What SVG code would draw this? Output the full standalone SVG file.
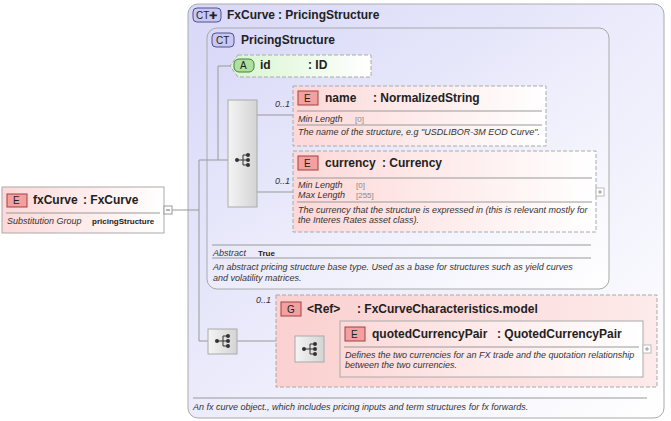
<svg xmlns="http://www.w3.org/2000/svg" width="671" height="421" viewBox="0 0 671 421">
<defs>
<linearGradient id="ct" x1="0" y1="0" x2="1" y2="1"><stop offset="0" stop-color="#d8d8f8"/><stop offset="1" stop-color="#ffffff"/></linearGradient>
<linearGradient id="el" x1="0" y1="0" x2="1" y2="0"><stop offset="0" stop-color="#fdd8d8"/><stop offset="1" stop-color="#ffffff"/></linearGradient>
<linearGradient id="gr" x1="0" y1="0" x2="1" y2="0"><stop offset="0" stop-color="#fbd0d0"/><stop offset="1" stop-color="#fdeaea"/></linearGradient>
<linearGradient id="at" x1="0" y1="0" x2="1" y2="0"><stop offset="0" stop-color="#d8f5d0"/><stop offset="1" stop-color="#ffffff"/></linearGradient>
<linearGradient id="sq" x1="0" y1="0" x2="1" y2="0"><stop offset="0" stop-color="#f4f4f4"/><stop offset="1" stop-color="#d4d4d4"/></linearGradient>
<g id="seqicon"><circle cx="-6" cy="0" r="2" fill="#333"/><path d="M-6 0H0M0-5V5M0-5H4M0 0H4M0 5H4" stroke="#333" fill="none"/><circle cx="5" cy="-5" r="2" fill="#333"/><circle cx="5" cy="0" r="2" fill="#333"/><circle cx="5" cy="5" r="2" fill="#333"/></g>
</defs>
<style>
text{font-family:"Liberation Sans",Arial,sans-serif;fill:#222}
.b{font-weight:bold;font-size:12px}
.i{font-style:italic;font-size:9px;fill:#333}
.v{font-size:8px;fill:#888}
.sep{stroke:#999;stroke-width:1}
.c{stroke:#999;fill:none}
.eb{fill:#f4a0a0;stroke:#a04040}
</style>
<g id="FxCurveType">
<rect x="188" y="4" width="476" height="414" rx="10" fill="url(#ct)" stroke="#aaa"/>
<rect x="193" y="8" width="28" height="14" rx="4" fill="#c8c8f0" stroke="#505090"/>
<text x="196" y="19" font-size="10" fill="#303070">CT✚</text>
<text x="227" y="19" class="b">FxCurve</text><text x="278" y="19" class="b">: PricingStructure</text>
<line x1="193" y1="398" x2="647" y2="398" class="sep"/>
<text x="193" y="410" class="i">An fx curve object., which includes pricing inputs and term structures for fx forwards.</text>
</g>
<g id="PricingStructure">
<rect x="207" y="28" width="402" height="261" rx="10" fill="url(#ct)" stroke="#aaa"/>
<rect x="212" y="33" width="22" height="14" rx="4" fill="#c8c8f0" stroke="#505090"/>
<text x="216" y="44" font-size="10" fill="#303070">CT</text>
<text x="241" y="44" class="b">PricingStructure</text>
<line x1="212" y1="245" x2="591" y2="245" class="sep"/>
<text x="213" y="256" class="i">Abstract</text><text x="258" y="256" font-size="8" font-weight="bold">True</text>
<line x1="212" y1="258" x2="591" y2="258" class="sep"/>
<text x="213" y="270" class="i">An abstract pricing structure base type. Used as a base for structures such as yield curves</text>
<text x="213" y="281" class="i">and volatility matrices.</text>
</g>
<g id="connectors">
<path class="c" d="M172 210H199M199 160V341M199 160H228M218 160V66H230M199 341H208M257 115H293M257 192H293M237 341H276M276 349H295M324 349H340"/>
<text x="275" y="107" class="i">0..1</text>
<text x="275" y="184" class="i">0..1</text>
<text x="256" y="303" class="i">0..1</text>
</g>
<g id="fxCurve">
<rect x="2" y="187" width="162" height="46" fill="url(#el)" stroke="#aaa"/>
<rect x="7" y="194" width="20" height="13" class="eb"/><text x="13" y="204" font-size="10">E</text>
<text x="33" y="204" class="b">fxCurve</text><text x="83" y="204" class="b">: FxCurve</text>
<line x1="6" y1="213" x2="160" y2="213" class="sep"/>
<text x="7" y="224" class="i">Substitution Group</text><text x="92" y="224" font-size="8" font-weight="bold">pricingStructure</text>
<rect x="164" y="206" width="8" height="8" fill="#fff" stroke="#999"/><path d="M166 210h4" stroke="#666"/>
</g>
<g id="id">
<path d="M238 55H371V77H238L230 66Z" fill="url(#at)" stroke="#aaa" stroke-dasharray="4 2"/>
<rect x="234" y="59" width="20" height="13" rx="5" fill="#b0e0a0" stroke="#408040"/><text x="240" y="69" font-size="10">A</text>
<text x="260" y="69" class="b">id</text><text x="308" y="69" class="b">: ID</text>
</g>
<g id="seq1">
<rect x="228" y="100" width="29" height="107" fill="url(#sq)" stroke="#aaa"/>
<use href="#seqicon" x="243" y="160"/>
</g>
<g id="name">
<rect x="293" y="86" width="253" height="60" fill="url(#el)" stroke="#aaa" stroke-dasharray="4 2"/>
<rect x="298" y="91" width="20" height="14" class="eb"/><text x="304" y="102" font-size="10">E</text>
<text x="325" y="102" class="b">name</text><text x="373" y="102" class="b">: NormalizedString</text>
<line x1="297" y1="111" x2="542" y2="111" class="sep"/>
<text x="298" y="122" class="i">Min Length</text><text x="355" y="122" class="v">[0]</text>
<line x1="297" y1="125" x2="542" y2="125" class="sep"/>
<text x="298" y="135" class="i">The name of the structure, e.g "USDLIBOR-3M EOD Curve".</text>
</g>
<g id="currency">
<rect x="293" y="151" width="303" height="81" fill="url(#el)" stroke="#aaa" stroke-dasharray="4 2"/>
<rect x="298" y="156" width="20" height="14" class="eb"/><text x="304" y="167" font-size="10">E</text>
<text x="325" y="167" class="b">currency</text><text x="382" y="167" class="b">: Currency</text>
<line x1="297" y1="178" x2="592" y2="178" class="sep"/>
<text x="298" y="188" class="i">Min Length</text><text x="356" y="188" class="v">[0]</text>
<text x="298" y="198" class="i">Max Length</text><text x="356" y="198" class="v">[255]</text>
<line x1="297" y1="202" x2="592" y2="202" class="sep"/>
<text x="298" y="213" class="i">The currency that the structure is expressed in (this is relevant mostly for</text>
<text x="298" y="223" class="i">the Interes Rates asset class).</text>
<rect x="596" y="188" width="8" height="8" fill="#fff" stroke="#bbb"/><path d="M598 192h4M600 190v4" stroke="#999"/>
</g>
<g id="seq2">
<rect x="208" y="329" width="29" height="25" fill="url(#sq)" stroke="#aaa"/>
<use href="#seqicon" x="223" y="341"/>
</g>
<g id="FxCurveCharacteristics">
<rect x="276" y="295" width="381" height="92" fill="url(#gr)" stroke="#aaa" stroke-dasharray="4 2"/>
<rect x="281" y="302" width="20" height="14" class="eb"/><text x="287" y="313" font-size="10">G</text>
<text x="307" y="313" class="b">&lt;Ref&gt;</text><text x="357" y="313" class="b">: FxCurveCharacteristics.model</text>
</g>
<g id="seq3">
<rect x="295" y="336" width="29" height="26" fill="url(#sq)" stroke="#aaa"/>
<use href="#seqicon" x="310" y="349"/>
</g>
<g id="quotedCurrencyPair">
<rect x="340" y="321" width="303" height="56" fill="url(#el)" stroke="#aaa"/>
<rect x="345" y="327" width="20" height="14" class="eb"/><text x="351" y="338" font-size="10">E</text>
<text x="372" y="338" class="b">quotedCurrencyPair</text><text x="497" y="338" class="b">: QuotedCurrencyPair</text>
<line x1="344" y1="347" x2="639" y2="347" class="sep"/>
<text x="345" y="358" class="i">Defines the two currencies for an FX trade and the quotation relationship</text>
<text x="345" y="368" class="i">between the two currencies.</text>
<rect x="643" y="345" width="8" height="8" fill="#fff" stroke="#bbb"/><path d="M645 349h4M647 347v4" stroke="#999"/>
</g>
</svg>
